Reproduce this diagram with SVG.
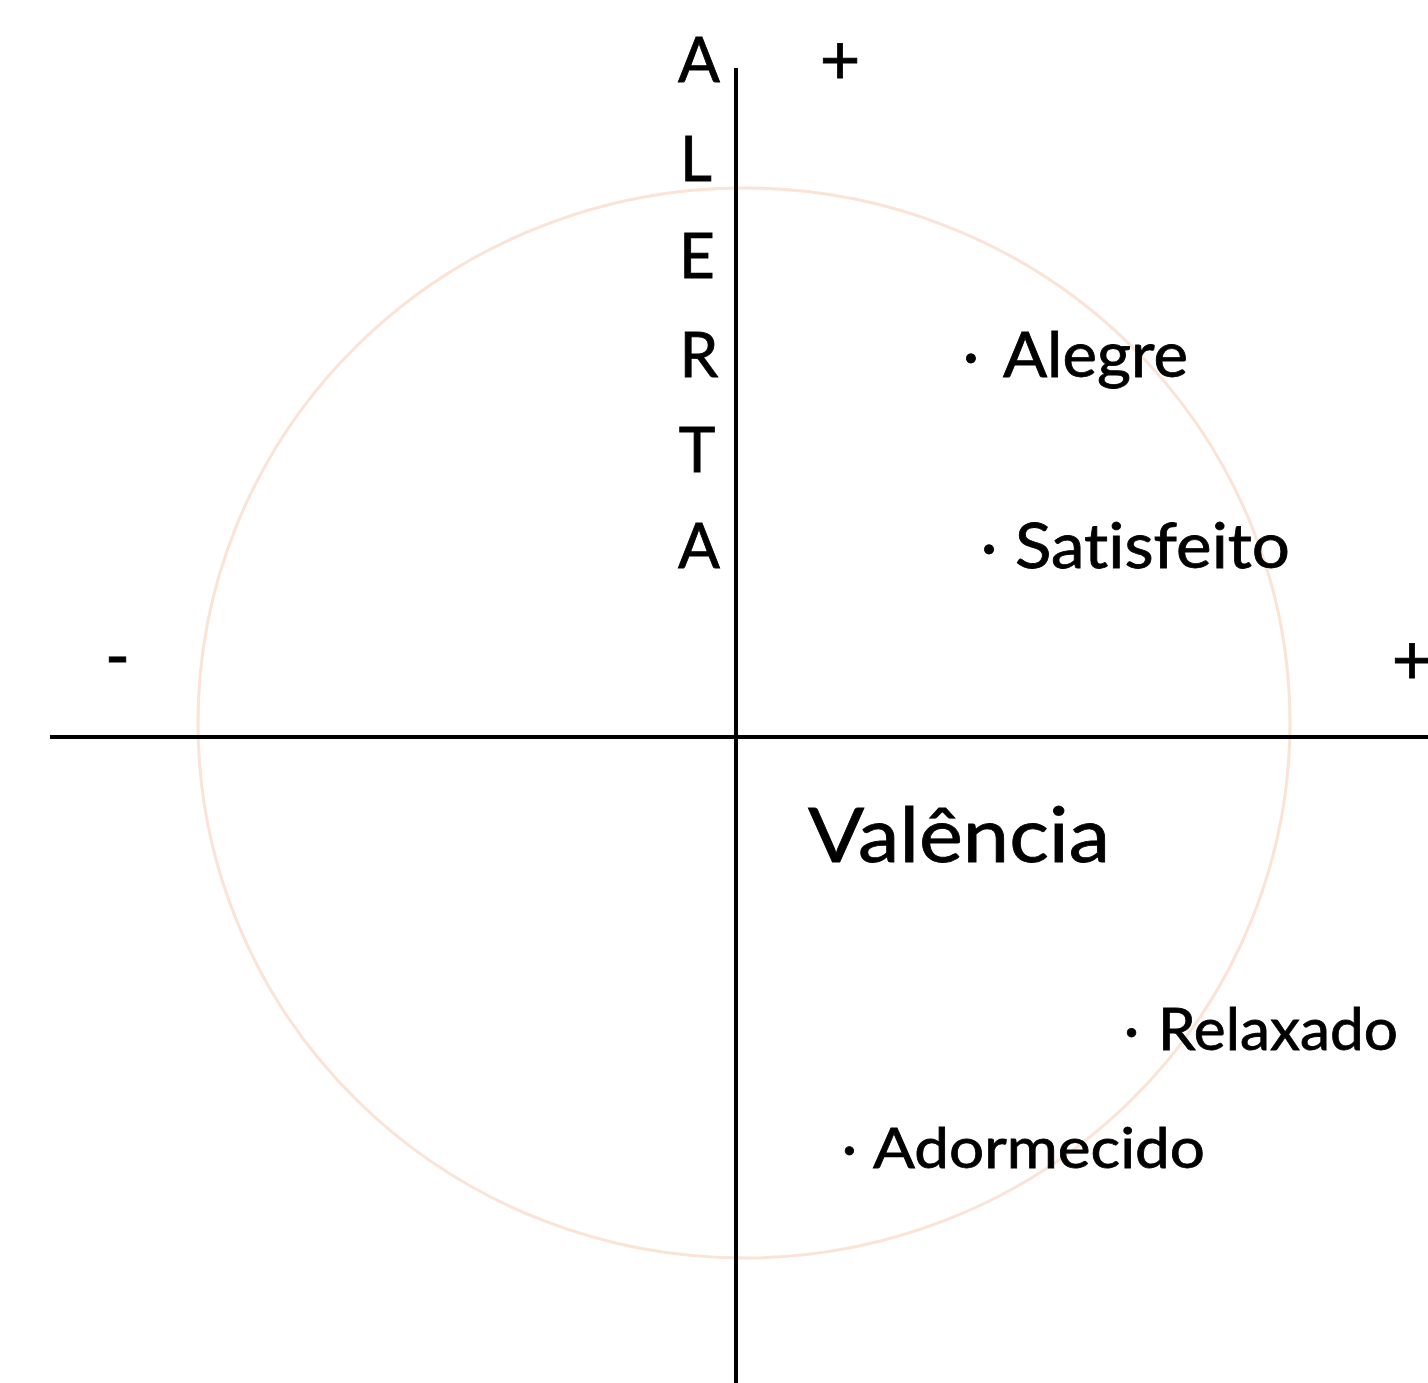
<svg xmlns="http://www.w3.org/2000/svg" width="1428" height="1383" viewBox="0 0 1428 1383">
<style>
.t{font-family:Lato,"Open Sans","Liberation Sans",sans-serif;fill:#000;stroke:#000;stroke-width:0.8;font-variant-ligatures:none;}
.ax{stroke:#000;stroke-width:4;fill:none;}
</style>
<rect width="1428" height="1383" fill="#fff"/>
<g id="circle"><ellipse cx="744" cy="723" rx="546" ry="535" fill="none" stroke="#fbe3d5" stroke-width="3"/></g>
<g id="connectors">
<line class="ax" x1="736" y1="68" x2="736" y2="1383"/>
<line class="ax" x1="50" y1="737" x2="1428" y2="737"/>
</g>
<g id="alerta" class="t" font-size="62">
<text x="699" y="82" text-anchor="middle">A</text>
<text x="696" y="181" text-anchor="middle">L</text>
<text x="697" y="278" text-anchor="middle">E</text>
<text x="699" y="377" text-anchor="middle">R</text>
<text x="697" y="472" text-anchor="middle">T</text>
<text x="699" y="568" text-anchor="middle">A</text>
</g>
<g id="plus-top"><text class="t" x="840" y="84" font-size="70" stroke-width="1.5" text-anchor="middle">+</text></g>
<g id="minus-left"><text class="t" x="105" y="680" font-size="68" stroke-width="0.5" textLength="25" lengthAdjust="spacingAndGlyphs">-</text></g>
<g id="plus-right"><text class="t" x="1412" y="684" font-size="70" stroke-width="1.5" text-anchor="middle">+</text></g>
<g id="alegre"><text class="t" y="377" font-size="61"><tspan x="963">·</tspan><tspan x="1003" textLength="185" lengthAdjust="spacingAndGlyphs">Alegre</tspan></text></g>
<g id="satisfeito"><text class="t" y="568" font-size="62"><tspan x="981">·</tspan><tspan x="1015" textLength="275" lengthAdjust="spacingAndGlyphs">Satisfeito</tspan></text></g>
<g id="valencia"><text class="t" x="808" y="862" font-size="75" textLength="302" lengthAdjust="spacingAndGlyphs">Valência</text></g>
<g id="relaxado"><text class="t" y="1050" font-size="58"><tspan x="1124">·</tspan><tspan x="1158" textLength="240" lengthAdjust="spacingAndGlyphs">Relaxado</tspan></text></g>
<g id="adormecido"><text class="t" y="1168" font-size="57"><tspan x="842">·</tspan><tspan x="873" textLength="332" lengthAdjust="spacingAndGlyphs">Adormecido</tspan></text></g>
</svg>
